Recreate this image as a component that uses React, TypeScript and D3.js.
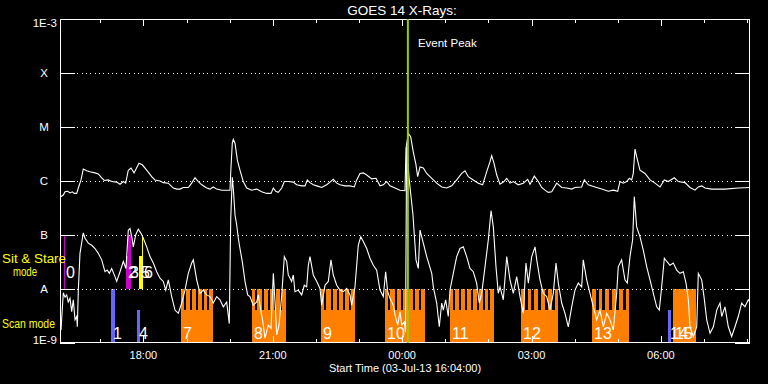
import React from 'react';
import * as d3 from 'd3';

// ---------- DATA ----------
const TITLE = 'GOES 14 X-Rays:';
const START_LABEL = 'Start Time (03-Jul-13 16:04:00)';
const START_CLOCK_MIN = 16 * 60 + 4; // 16:04
const SPAN_MIN = 960; // 16 hours
const EVENT_PEAK_MIN = 484; // ~00:08
const EVENT_LABEL = 'Event Peak';

const yTickValues = [1e-9, 1e-8, 1e-7, 1e-6, 1e-5, 1e-4, 1e-3];
const yTickLabels = ['1E-9', 'A', 'B', 'C', 'M', 'X', '1E-3'];

// GOES long channel (1-8 A): [minutes since start, log10 flux]
const goesLong: [number, number][] = [
  [1.0,-6.29],[4.6,-6.26],[7.0,-6.20],[10.7,-6.19],[13.9,-6.22],[17.1,-6.20],[19.9,-6.23],[23.2,-6.23],[25.5,-6.13],[29.2,-5.98],
  [32.4,-5.78],[37.1,-5.81],[41.7,-5.83],[48.7,-5.85],[53.3,-5.87],[58.0,-5.94],[61.6,-5.99],[67.2,-5.98],[71.9,-6.01],[78.9,-6.02],
  [83.5,-6.06],[88.1,-6.01],[91.4,-6.04],[95.0,-5.80],[98.8,-5.76],[103.0,-5.85],[109.9,-5.67],[114.5,-5.70],[120.6,-5.80],[127.6,-5.92],
  [132.2,-5.98],[139.1,-6.00],[143.7,-6.03],[150.7,-6.04],[157.6,-6.13],[162.4,-6.15],[167.0,-6.15],[171.5,-6.12],[178.5,-6.12],[183.2,-6.04],
  [187.8,-5.94],[192.4,-6.01],[197.2,-6.07],[204.1,-6.13],[208.7,-6.15],[213.3,-6.11],[218.0,-6.15],[225.0,-6.17],[231.9,-6.17],[236.5,-6.17],
  [237.5,-5.85],[239.7,-5.30],[241.1,-5.23],[243.5,-5.30],[246.7,-5.61],[250.4,-5.80],[255.0,-6.01],[259.8,-6.13],[266.7,-6.17],[273.7,-6.15],
  [280.6,-6.20],[287.6,-6.23],[293.6,-6.23],[296.8,-6.13],[300.1,-6.19],[303.7,-6.21],[308.5,-6.13],[312.1,-6.01],[317.6,-6.01],[324.6,-6.02],
  [329.3,-6.07],[336.3,-6.09],[340.9,-6.09],[344.1,-5.98],[347.8,-6.03],[352.4,-6.07],[357.2,-6.09],[364.1,-6.12],[371.1,-6.07],[375.7,-6.02],
  [380.2,-5.97],[385.0,-6.04],[389.6,-6.07],[396.5,-6.09],[403.5,-6.09],[409.5,-6.11],[412.8,-5.98],[417.4,-5.86],[422.0,-5.85],[426.7,-5.89],
  [433.7,-5.96],[439.7,-5.95],[445.2,-6.09],[449.8,-6.07],[454.5,-6.01],[459.1,-6.09],[466.1,-6.13],[473.0,-6.17],[480.0,-6.18],[481.4,-5.39],
  [484.6,-5.12],[487.9,-5.18],[491.5,-5.46],[495.3,-5.70],[497.6,-5.92],[500.9,-5.74],[505.5,-5.76],[510.2,-5.86],[517.2,-5.95],[524.1,-6.04],
  [531.1,-6.11],[538.0,-6.13],[545.0,-6.09],[551.9,-5.98],[558.9,-5.86],[563.5,-5.81],[568.1,-5.92],[575.0,-5.98],[582.0,-6.04],[588.1,-6.07],
  [593.6,-5.83],[598.3,-5.64],[600.6,-5.53],[603.8,-5.67],[607.6,-5.89],[612.2,-6.06],[617.7,-6.01],[621.5,-5.95],[626.1,-6.04],[630.7,-6.01],
  [637.6,-6.07],[644.6,-6.04],[650.7,-5.97],[653.9,-6.06],[659.9,-5.91],[665.5,-6.01],[670.2,-6.12],[674.8,-6.17],[679.4,-6.21],[684.1,-6.20],
  [691.1,-6.04],[698.0,-6.12],[705.0,-6.13],[711.9,-6.15],[716.5,-6.12],[725.8,-6.11],[729.5,-5.98],[735.0,-6.07],[744.3,-6.11],[753.7,-6.15],
  [762.9,-6.19],[769.8,-6.17],[775.9,-6.19],[779.1,-6.01],[783.7,-6.04],[788.4,-6.01],[792.1,-5.95],[795.4,-5.98],[797.6,-5.86],[800.0,-5.41],
  [802.3,-5.55],[806.9,-5.80],[813.9,-5.86],[820.9,-5.98],[827.8,-6.04],[834.8,-6.11],[840.8,-5.98],[846.3,-6.01],[854.7,-5.94],[860.2,-6.01],
  [869.6,-6.03],[876.5,-6.12],[883.5,-6.17],[888.1,-6.11],[892.8,-6.09],[897.4,-6.13],[906.7,-6.15],[925.2,-6.15],[943.7,-6.13],[960,-6.12],
];

// GOES short channel (0.5-4 A): [minutes since start, log10 flux]
const goesShort: [number, number][] = [
  [1.4,-8.76],[4.6,-8.07],[7.0,-8.15],[9.3,-8.11],[11.5,-8.24],[13.9,-8.17],[16.3,-8.42],[18.5,-8.20],[20.9,-8.57],[23.2,-8.51],
  [24.1,-8.70],[25.5,-8.02],[27.8,-7.34],[32.4,-6.96],[34.8,-7.06],[39.4,-7.15],[44.1,-7.19],[48.7,-7.25],[53.3,-7.34],[58.0,-7.46],
  [62.6,-7.68],[65.8,-7.65],[68.6,-7.71],[71.9,-7.62],[76.5,-7.77],[78.9,-7.86],[83.5,-7.68],[88.1,-7.49],[91.8,-7.62],[95.0,-6.91],
  [97.4,-6.88],[99.8,-7.03],[102.0,-7.22],[105.3,-7.00],[108.9,-6.89],[112.7,-6.97],[115.9,-7.06],[120.6,-7.22],[125.2,-7.40],[129.8,-7.52],
  [134.5,-7.68],[139.1,-7.80],[143.7,-7.86],[147.1,-8.02],[150.7,-7.83],[155.4,-8.14],[160.0,-8.39],[164.6,-8.45],[169.3,-8.26],[173.9,-8.02],
  [178.5,-7.71],[183.2,-7.52],[185.5,-7.46],[190.2,-7.83],[194.8,-8.08],[199.4,-8.02],[204.1,-8.11],[208.7,-8.14],[213.3,-8.26],[218.0,-8.14],
  [222.6,-8.20],[227.2,-8.33],[231.9,-8.24],[235.5,-8.64],[237.5,-6.72],[239.7,-5.93],[241.3,-6.17],[243.5,-6.63],[245.8,-6.81],[248.1,-7.06],
  [250.4,-7.25],[253.6,-7.49],[257.4,-7.86],[261.1,-8.11],[264.3,-8.14],[268.9,-8.30],[273.7,-8.24],[275.9,-8.11],[279.7,-8.42],[282.9,-8.67],
  [285.2,-8.91],[289.8,-8.67],[293.6,-8.73],[296.8,-7.71],[299.2,-8.24],[301.5,-8.85],[304.7,-8.67],[308.5,-8.11],[312.1,-7.40],[315.4,-7.49],
  [317.6,-7.74],[322.3,-7.86],[324.6,-7.74],[326.9,-8.05],[331.5,-8.02],[336.3,-8.11],[339.9,-7.93],[343.2,-7.96],[345.5,-7.56],[347.8,-7.40],
  [352.4,-7.74],[357.2,-7.86],[361.7,-7.99],[364.1,-8.30],[368.7,-7.93],[373.3,-7.86],[377.0,-7.46],[380.2,-7.74],[385.0,-7.93],[389.6,-8.02],
  [394.2,-8.05],[398.9,-7.99],[403.5,-8.11],[405.8,-8.30],[410.4,-7.96],[415.0,-7.19],[418.4,-7.03],[422.0,-7.12],[426.7,-7.25],[431.3,-7.43],
  [435.9,-7.56],[440.6,-7.65],[445.2,-8.02],[449.8,-8.14],[453.1,-7.68],[455.9,-8.05],[459.1,-8.17],[463.7,-8.30],[466.1,-8.48],[469.9,-8.67],
  [473.0,-8.42],[475.4,-8.67],[479.0,-8.61],[480.7,-8.80],[482.3,-5.37],[485.9,-5.98],[491.1,-6.63],[495.3,-7.46],[498.5,-7.62],[500.9,-6.91],
  [503.2,-7.03],[505.5,-7.15],[510.2,-7.40],[517.2,-7.71],[519.4,-7.96],[524.1,-8.26],[527.7,-8.70],[531.1,-8.26],[533.3,-8.39],[536.6,-8.20],
  [540.2,-8.51],[542.6,-8.02],[547.2,-7.71],[551.9,-7.40],[556.5,-7.25],[561.1,-7.22],[565.8,-7.40],[570.4,-7.62],[575.0,-7.68],[579.7,-7.89],
  [583.3,-8.26],[586.7,-8.08],[591.3,-7.59],[595.9,-7.09],[599.7,-6.55],[602.9,-6.85],[606.6,-7.59],[609.8,-8.08],[612.2,-7.96],[616.8,-8.20],
  [621.5,-7.40],[626.1,-7.83],[630.7,-8.08],[635.4,-7.77],[640.0,-8.14],[644.6,-8.45],[648.3,-7.52],[651.6,-7.89],[656.3,-7.40],[660.9,-7.22],
  [663.3,-7.46],[667.8,-7.83],[672.4,-8.08],[677.2,-8.14],[681.7,-8.39],[686.3,-8.08],[690.1,-7.52],[693.3,-7.89],[698.0,-8.26],[702.6,-8.45],
  [707.2,-8.70],[711.9,-8.33],[716.5,-8.02],[721.1,-7.89],[725.8,-7.96],[728.0,-7.46],[732.8,-7.83],[737.4,-8.08],[742.0,-8.33],[746.7,-8.57],
  [751.3,-8.39],[755.9,-8.70],[760.6,-8.45],[765.2,-8.57],[769.8,-8.76],[774.5,-8.08],[776.7,-7.59],[781.4,-7.46],[786.0,-7.83],[789.3,-7.89],
  [793.0,-7.40],[796.7,-7.09],[799.0,-6.29],[802.3,-6.85],[806.9,-7.03],[811.5,-7.28],[816.3,-7.59],[820.9,-7.83],[825.5,-8.08],[830.2,-8.33],
  [833.8,-8.39],[837.1,-7.96],[840.8,-7.43],[844.2,-7.49],[848.7,-7.56],[853.3,-7.52],[858.0,-7.65],[862.6,-7.71],[867.2,-7.68],[871.0,-7.89],
  [874.2,-8.20],[876.5,-8.70],[881.1,-8.88],[885.9,-8.70],[888.1,-7.71],[892.8,-7.83],[896.0,-8.14],[899.8,-8.57],[904.4,-8.82],[909.0,-8.70],
  [913.7,-8.39],[918.3,-8.26],[920.6,-8.51],[925.2,-8.33],[929.8,-8.70],[934.5,-8.88],[939.1,-8.70],[943.7,-8.51],[948.4,-8.26],[953.0,-8.33],
  [957.6,-8.20],[960,-8.24],
];

// Observations (minutes since start)
const obsIds =      [0,    1,    2,    3,    4,     5,     6,     7,     8,     9,     10,    11,    12,    13,    14,    15];
const obsStart =    [5.6,  71.0, 91.8, 94.6, 107.1, 109.9, 113.4, 168.3, 267.1, 363.1, 452.2, 542.6, 641.4, 740.2, 845.6, 852.9];
const obsEnd =      [7.0,  76.5, 94.6, 98.8, 111.3, 113.4, 114.8, 212.9, 314.4, 410.4, 507.8, 603.8, 692.9, 791.7, 849.8, 884.9];
const obsMode =     ['sit','scan','sit','sit','scan','sit','sit','scan','scan','scan','scan','scan','scan','scan','scan','scan'];
const obsProgram =  ['P1','P2','P1','P1','P2','P3','P3','P4','P4','P4','P4','P4','P4','P4','P2','P4'];
const obsFull =     [true, true, false,true, false, false, true, true,  true,  true,  true,  true,  true,  true,  false, true];
const obsSubScans = [0,    0,    0,    0,    0,     0,     0,     5,     5,     5,     6,     7,     5,     5,     0,     0];

// ---------- STYLE ----------
const programColor: Record<string, string> = { P1: '#cc00cc', P2: '#6666ff', P3: '#ffff00', P4: '#ff8000' };
const FONT = '"Liberation Sans", Arial, sans-serif';

export default function App() {
  const W = 768, H = 384;
  const L = 60, R = 750, T = 19, B = 343;
  const x = d3.scaleLinear().domain([0, SPAN_MIN]).range([L, R]);
  const y = d3.scaleLog().domain([1e-9, 1e-3]).range([B, T]);
  const line = d3.line<[number, number]>()
    .x(d => x(d[0]))
    .y(d => y(Math.pow(10, d[1])));

  const hourTicks = d3.range(((60 - (START_CLOCK_MIN % 60)) % 60), SPAN_MIN, 60);
  const clockHour = (m: number) => Math.round(((START_CLOCK_MIN + m) % 1440) / 60) % 24;

  const regionTop = (mode: string) => (mode === 'sit' ? y(1e-7) : y(1e-8));
  const regionBot = (mode: string) => (mode === 'sit' ? y(1e-8) : y(1e-9));
  const PARTIAL = 0.62;

  const bars: React.ReactNode[] = [];
  const labels: React.ReactNode[] = [];
  obsIds.forEach((id, i) => {
    const mode = obsMode[i];
    const x0 = Math.round(x(obsStart[i]));
    const x1 = Math.max(x0 + 1, Math.round(x(obsEnd[i])));
    const top = regionTop(mode);
    const bot = regionBot(mode);
    const partTop = bot - PARTIAL * (bot - top);
    const color = programColor[obsProgram[i]];
    const yTop = obsFull[i] ? top : partTop;
    bars.push(<rect key={'b' + id} x={x0} y={yTop} width={x1 - x0} height={bot - yTop} fill={color} />);
    const n = obsSubScans[i];
    if (n > 0) {
      const w = x1 - x0;
      const p = w / (n + 0.5);
      for (let k = 0; k < n; k++) {
        const c = x0 + (k + 0.75) * p;
        bars.push(
          <rect key={'n' + id + '_' + k} x={Math.round(c - 0.2 * p)} y={top} width={Math.max(2, Math.round(0.4 * p))} height={partTop - top} fill="#000" />
        );
      }
    }
    labels.push(
      <text key={'l' + id} x={x0 + 2} y={mode === 'sit' ? bot - 11.5 : bot - 4.5} fill="#fff" fontSize={16} fontFamily={FONT}>
        {id}
      </text>
    );
  });

  const px = (v: number) => Math.round(v) + 0.5;

  return (
    <div style={{ position: 'fixed', left: 0, top: 0 }}>
      <svg width={W} height={H} style={{ display: 'block', background: '#000' }}>
        <rect x={0} y={0} width={W} height={H} fill="#000" />
        <defs>
          <clipPath id="plotClip">
            <rect x={L} y={T} width={R - L} height={B - T} />
          </clipPath>
        </defs>
        <text x={402} y={15} fill="#fff" fontSize={13.5} fontFamily={FONT} textAnchor="middle">{TITLE}</text>

        {/* observation bars */}
        <g shapeRendering="crispEdges">{bars}</g>

        {/* grid lines */}
        <g shapeRendering="crispEdges">
          {yTickValues.slice(1, -1).map(v => (
            <line key={'g' + v} x1={L} x2={R} y1={px(y(v))} y2={px(y(v))} stroke="#fff" strokeWidth={1} strokeDasharray="1 3.33" />
          ))}
          {yTickValues.map(v => (
            <g key={'t' + v}>
              <line x1={L} x2={L + 15} y1={px(y(v))} y2={px(y(v))} stroke="#fff" />
              <line x1={R - 15} x2={R} y1={px(y(v))} y2={px(y(v))} stroke="#fff" />
            </g>
          ))}
        </g>

        {/* curves */}
        <g clipPath="url(#plotClip)">
          <path d={line(goesLong) || ''} fill="none" stroke="#fff" strokeWidth={1.1} />
          <path d={line(goesShort) || ''} fill="none" stroke="#fff" strokeWidth={1.1} />
        </g>

        {/* observation labels */}
        <g>{labels}</g>

        {/* frame and time ticks */}
        <g shapeRendering="crispEdges" stroke="#fff" fill="none">
          <rect x={L + 0.5} y={T + 0.5} width={R - L - 1} height={B - T - 1} />
          {hourTicks.map(m => {
            const major = clockHour(m) % 3 === 0;
            const len = major ? 7 : 4;
            const xx = px(x(m));
            return (
              <g key={'h' + m}>
                <line x1={xx} x2={xx} y1={T} y2={T + len} />
                <line x1={xx} x2={xx} y1={B} y2={B - len} />
              </g>
            );
          })}
        </g>

        {/* y labels */}
        {yTickValues.map((v, i) => {
          const lab = yTickLabels[i];
          const isNum = lab.startsWith('1E');
          let yy = y(v);
          if (i === 0) yy = y(v) - 3;
          if (i === yTickValues.length - 1) yy = y(v) + 4;
          return (
            <text key={'yl' + v} x={isNum ? 57 : 44} y={yy} dy="0.36em" fill="#fff" fontSize={11.5} fontFamily={FONT} textAnchor={isNum ? 'end' : 'middle'}>
              {lab}
            </text>
          );
        })}

        {/* x labels */}
        {hourTicks.filter(m => clockHour(m) % 3 === 0).map(m => (
          <text key={'xl' + m} x={x(m)} y={359} fill="#fff" fontSize={11} fontFamily={FONT} textAnchor="middle">
            {String(clockHour(m)).padStart(2, '0') + ':00'}
          </text>
        ))}
        <text x={405} y={372} fill="#fff" fontSize={11} fontFamily={FONT} textAnchor="middle">{START_LABEL}</text>

        {/* mode labels */}
        <text x={2} y={263} fill="#ffff00" fontSize={12.5} fontFamily={FONT} textLength={64} lengthAdjust="spacingAndGlyphs">Sit &amp; Stare</text>
        <text x={13} y={276} fill="#ffff00" fontSize={12.5} fontFamily={FONT} textLength={24} lengthAdjust="spacingAndGlyphs">mode</text>
        <text x={2} y={328} fill="#ffff00" fontSize={12.5} fontFamily={FONT} textLength={53} lengthAdjust="spacingAndGlyphs">Scan mode</text>

        {/* event peak */}
        <line x1={x(EVENT_PEAK_MIN)} x2={x(EVENT_PEAK_MIN)} y1={T} y2={B} stroke="#99cc00" strokeWidth={2} />
        <text x={x(EVENT_PEAK_MIN) + 10} y={47} fill="#fff" fontSize={11.5} fontFamily={FONT}>{EVENT_LABEL}</text>
      </svg>
    </div>
  );
}
